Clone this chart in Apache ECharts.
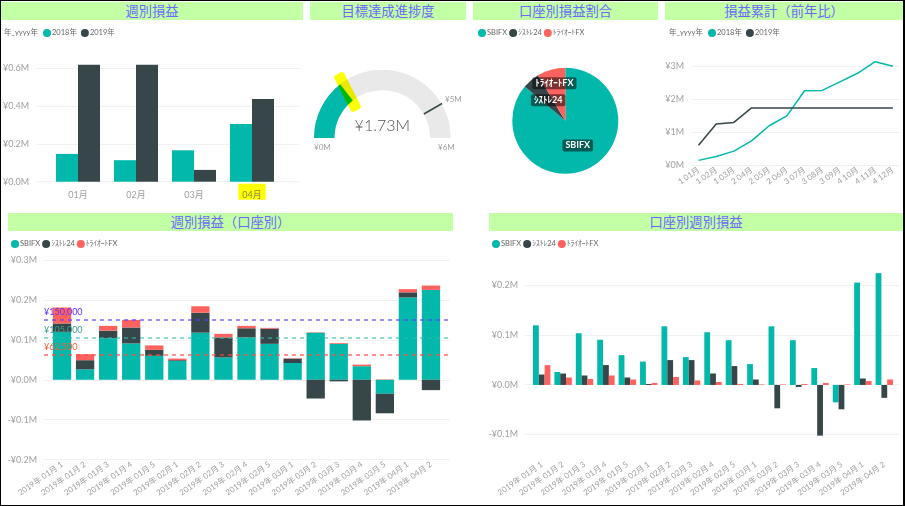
<!DOCTYPE html>
<html>
<head>
<meta charset="utf-8">
<title>週別損益</title>
<script src="https://cdn.jsdelivr.net/npm/echarts@6/dist/echarts.min.js"></script>
<style>
html,body{margin:0;padding:0;background:#fff;}
#box{position:relative;width:905px;height:506px;overflow:hidden;font-family:"Noto Sans CJK JP","Open Sans",sans-serif;}
#frame{position:absolute;left:0;top:0;width:902px;height:504px;border:1px solid #000;border-right-width:2px;box-sizing:content-box;}
.head{position:absolute;height:18px;line-height:18px;background:#c3ffa4;color:#6a6aff;font-size:13.3px;text-align:center;}
#chart{position:absolute;left:0;top:0;width:905px;height:506px;}
#marker{position:absolute;left:320px;top:50px;width:130px;height:100px;mix-blend-mode:multiply;}
</style>
</head>
<body>
<div id="box">
    <div id="frame"></div>
    <div class="head" style="left:1px;top:2px;width:302px;">週別損益</div>
    <div class="head" style="left:310px;top:2px;width:156px;">目標達成進捗度</div>
    <div class="head" style="left:473px;top:2px;width:185px;">口座別損益割合</div>
    <div class="head" style="left:665px;top:2px;width:238px;">損益累計（前年比）</div>
    <div class="head" style="left:8px;top:213px;width:445px;">週別損益（口座別）</div>
    <div class="head" style="left:489px;top:213px;width:414px;">口座別週別損益</div>
    <div id="chart"></div>
    <div id="marker"></div>
</div>
<script>
// 月別
var months = ['01月','02月','03月','04月'];
var month2018 = [0.146,0.113,0.165,0.303];
var month2019 = [0.614,0.614,0.062,0.435];
// 目標
var gaugeValue = 1.73;
var gaugeTarget = 5;
var gaugeMax = 6;
// 口座別割合
var accounts = ['SBIFX','ｼｽﾄﾚ24','ﾄﾗｲｵｰﾄFX'];
var accountTotal = [1.49,0.091,0.149];
// 累計
var cumMonths = ['1 01月','1 02月','1 03月','2 04月','2 05月','2 06月','3 07月','3 08月','3 09月','4 10月','4 11月','4 12月'];
var cum2018 = [0.14,0.26,0.42,0.73,1.19,1.49,2.25,2.26,2.52,2.78,3.13,2.99];
var cum2019 = [0.60,1.24,1.29,1.73,1.73,1.73,1.73,1.73,1.73,1.73,1.73,1.73];
// 週別
var weeks = ['2019年 01月 1','2019年 01月 2','2019年 01月 3','2019年 01月 4','2019年 01月 5','2019年 02月 1','2019年 02月 2','2019年 02月 3','2019年 02月 4','2019年 02月 5','2019年 03月 1','2019年 03月 2','2019年 03月 3','2019年 03月 4','2019年 03月 5','2019年 04月 1','2019年 04月 2'];
var weekSbi = [0.120,0.026,0.104,0.091,0.060,0.047,0.118,0.056,0.106,0.090,0.042,0.118,0.090,0.034,-0.035,0.206,0.225];
var weekSys = [0.021,0.023,0.019,0.040,0.015,0.002,0.050,0.050,0.023,0.038,0.011,-0.047,-0.004,-0.102,-0.049,0.013,-0.026];
var weekTri = [0.040,0.015,0.012,0.019,0.011,0.004,0.016,0.009,0.006,0.002,0.001,0.001,0.002,0.004,0.001,0.008,0.011];
// 目標線
var targetValues = [0.15,0.105,0.0625];
var targetLabels = ['¥150,000','¥105,000','¥62,500'];

var TEAL='#01b8aa', DARK='#374649', RED='#fd625e';
var FONT='Lato,"Noto Sans CJK JP",sans-serif';
var TICK='#a0a0a0', LEGEND='#666';

var grids=[], xAxes=[], yAxes=[], series=[];

function yen(v,d){
    return (v<0?'-':'')+'¥'+Math.abs(v).toFixed(d)+'M';
}
// 目盛り線用のグリッド。棒の範囲より横に長いので別にする
function addGuide(left,right,top,bottom,min,max,interval,digits,margin){
    grids.push({left:left,width:right-left,top:top,height:bottom-top});
    var i=grids.length-1;
    xAxes.push({type:'value',gridIndex:i,show:false,min:0,max:1});
    yAxes.push({type:'value',gridIndex:i,min:min,max:max,interval:interval,
        axisLine:{show:false},axisTick:{show:false},
        splitLine:{lineStyle:{color:'#f1f1f1',width:1}},
        axisLabel:{color:TICK,fontSize:9,fontFamily:FONT,margin:margin,formatter:function(v){return yen(v,digits);}}
    });
    return i;
}
// 描画用のグリッド
function addPlot(left,right,top,bottom,min,max,cats,rotate,margin,labelFn){
    grids.push({left:left,width:right-left,top:top,height:bottom-top});
    var i=grids.length-1;
    xAxes.push({type:'category',gridIndex:i,data:cats,
        axisLine:{show:false,onZero:false},axisTick:{show:false},
        axisLabel:{interval:0,rotate:rotate,margin:margin,color:TICK,fontSize:8,fontFamily:FONT,formatter:labelFn,
            rich:{
                n:{color:TICK,fontSize:9,fontFamily:FONT,padding:[7,4,0,4]},
                hl:{backgroundColor:'#ffff00',color:'#8a8a40',fontSize:9,fontFamily:FONT,padding:[7,4,0,4]}
            }}
    });
    yAxes.push({type:'value',gridIndex:i,show:false,min:min,max:max,splitLine:{show:false}});
    return i;
}
function legend(left,top,names,gap){
    return {left:left,top:top,data:names,icon:'circle',itemWidth:8,itemHeight:8,itemGap:gap,padding:0,
        selectedMode:false,textStyle:{color:LEGEND,fontSize:7.5,fontFamily:FONT,padding:[0,0,0,-4]}};
}
function yearTitle(left,top){
    return {type:'text',left:left,top:top,style:{text:'年_yyyy年',fill:LEGEND,fontSize:7.5,fontFamily:FONT}};
}

// 週別損益
addGuide(34,299,68,181.7,0,0.6,0.2,1,8);
var p1=addPlot(49,281,58,181.7,0,0.65,months,0,2,function(v){return (v==='04月'?'{hl|':'{n|')+v+'}';});
series.push({name:'2018年',type:'bar',xAxisIndex:p1,yAxisIndex:p1,data:month2018,barWidth:22,barGap:0,itemStyle:{color:TEAL}});
series.push({name:'2019年',type:'bar',xAxisIndex:p1,yAxisIndex:p1,data:month2019,barWidth:22,barGap:0,itemStyle:{color:DARK}});

// 損益累計
addGuide(692,900,66,165,0,3,1,0,8);
var p2=addPlot(689.7,901.7,59,165,0,3.212,cumMonths,35,4);
series.push({name:'2018年',type:'line',xAxisIndex:p2,yAxisIndex:p2,data:cum2018,symbol:'none',lineStyle:{color:TEAL,width:1.5},itemStyle:{color:TEAL}});
series.push({name:'2019年',type:'line',xAxisIndex:p2,yAxisIndex:p2,data:cum2019,symbol:'none',lineStyle:{color:DARK,width:1.5},itemStyle:{color:DARK}});

// 週別損益（口座別）
var g3=addGuide(44,450,260,459.6,-0.2,0.3,0.1,1,7);
var p3=addPlot(50.5,442.5,260,459.6,-0.2,0.3,weeks,35,4);
var names=accounts, vals=[weekSbi,weekSys,weekTri], cols=[TEAL,DARK,RED];
names.forEach(function(n,k){
    series.push({name:n,type:'bar',xAxisIndex:p3,yAxisIndex:p3,data:vals[k],stack:'w',barWidth:18.3,itemStyle:{color:cols[k]}});
});
var lineCols=['rgba(90,60,255,0.6)','rgba(45,189,176,0.55)','rgba(253,74,64,0.6)'], textCols=['#6030ff','#3a9f92','#f0603c'];
series.push({type:'line',xAxisIndex:g3,yAxisIndex:g3,data:[],z:5,silent:true,
    markLine:{symbol:'none',animation:false,silent:true,precision:4,data:targetValues.map(function(v,k){
        return {yAxis:v,lineStyle:{color:lineCols[k],type:[4,4],width:2},
            label:{show:true,position:'insideStartTop',formatter:targetLabels[k],color:textCols[k],fontSize:9,fontFamily:FONT,distance:[0,3]}};
    })}
});

// 口座別週別損益
addGuide(525,900,285.3,434.4,-0.1,0.2,0.1,1,7);
var p4=addPlot(531,895,260.7,459.5,-0.15,0.25,weeks,35,4);
names.forEach(function(n,k){
    series.push({name:n,type:'bar',xAxisIndex:p4,yAxisIndex:p4,data:vals[k],barWidth:5.8,barGap:0,itemStyle:{color:cols[k]}});
});

// 目標達成進捗度
var gc=[382.3,138];
series.push({type:'gauge',center:gc,radius:68.3,startAngle:180,endAngle:0,min:0,max:gaugeMax,
    axisLine:{lineStyle:{width:20.5,color:[[gaugeValue/gaugeMax,TEAL],[1,'#e9e9e9']]}},
    axisTick:{show:false},splitLine:{show:false},axisLabel:{show:false},
    pointer:{show:false},anchor:{show:false},title:{show:false},
    detail:{offsetCenter:[0,-12],fontSize:16,color:'#555',fontWeight:300,fontFamily:'Lato,sans-serif',formatter:function(v){return '¥'+v.toFixed(2)+'M';}},
    data:[{value:gaugeValue}]
});
// ¥5M の目標線
series.push({type:'gauge',center:gc,radius:68.3,startAngle:180,endAngle:0,min:0,max:gaugeMax,z:4,
    axisLine:{show:false},axisTick:{show:false},splitLine:{show:false},axisLabel:{show:false},
    anchor:{show:false},title:{show:false},detail:{show:false},
    pointer:{icon:'rect',length:21,width:1.5,offsetCenter:[0,-48],itemStyle:{color:DARK}},
    data:[{value:gaugeTarget}]
});

// 口座別損益割合
var pieOffset=[[0,-2],[2,2],[-3,-9]];
series.push({type:'pie',center:[565.3,120.7],radius:53,startAngle:90,clockwise:true,
    labelLine:{show:false},
    data:accounts.map(function(n,k){
        return {name:n,value:accountTotal[k],itemStyle:{color:cols[k]},
            label:{show:true,position:'inside',formatter:'{b}',offset:pieOffset[k],color:'#fff',fontSize:9,fontWeight:'bold',fontFamily:FONT,
                backgroundColor:'rgba(0,0,0,0.5)',borderRadius:2,padding:[2,3,1,3]}};
    })
});

var chart=echarts.init(document.getElementById('chart'));
chart.setOption({
    animation:false,
    textStyle:{fontFamily:FONT},
    grid:grids,xAxis:xAxes,yAxis:yAxes,series:series,
    legend:[
        legend(43,29,['2018年','2019年'],4),
        legend(478,29,accounts,2),
        legend(708,29,['2018年','2019年'],4),
        legend(11,240,accounts,2),
        legend(492,240,accounts,2)
    ],
    graphic:[
        yearTitle(4,29),
        yearTitle(669,29),
        {type:'text',left:314,top:143,style:{text:'¥0M',fill:TICK,fontSize:8,fontFamily:FONT}},
        {type:'text',left:438,top:143,style:{text:'¥6M',fill:TICK,fontSize:8,fontFamily:FONT}},
        {type:'text',left:445,top:95,style:{text:'¥5M',fill:TICK,fontSize:8,fontFamily:FONT}}
    ]
});

// 蛍光ペンの印。multiply で重ねる
var marker=echarts.init(document.getElementById('marker'));
marker.setOption({
    animation:false,
    series:[{type:'gauge',center:[53.4,92.8],radius:80,startAngle:180,endAngle:0,min:0,max:gaugeMax,
        axisLine:{show:false},axisTick:{show:false},splitLine:{show:false},axisLabel:{show:false},
        anchor:{show:false},title:{show:false},detail:{show:false},
        pointer:{icon:'roundRect',length:41,width:11,offsetCenter:[0,-36.5],itemStyle:{color:'#ffff00'}},
        data:[{value:2.1}]
    }]
});
</script>
</body>
</html>
